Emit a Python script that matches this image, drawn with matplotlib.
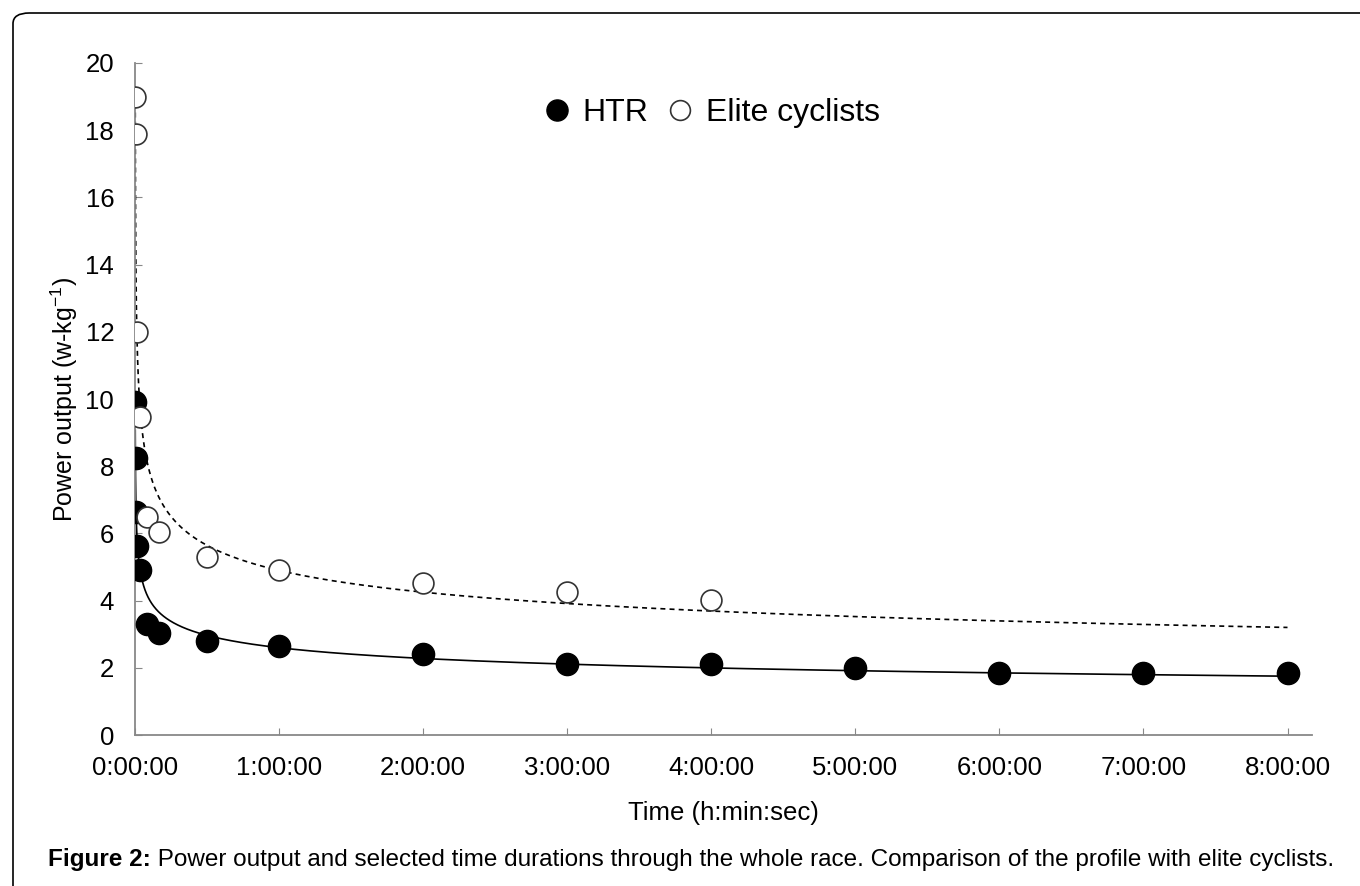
import numpy as np
import matplotlib
matplotlib.use('Agg')
import matplotlib.pyplot as plt
from matplotlib.patches import FancyBboxPatch

plt.rcParams['font.family'] = ['Liberation Sans', 'DejaVu Sans']

# time durations in seconds, power in w/kg
htr_sec = [5, 15, 30, 60, 120, 300, 600, 1800, 3600, 7200, 10800, 14400, 18000, 21600, 25200, 28800]
htr_pow = [9.9, 8.25, 6.65, 5.62, 4.92, 3.3, 3.05, 2.8, 2.65, 2.42, 2.1, 2.1, 2.0, 1.85, 1.85, 1.85]
elite_sec = [5, 15, 60, 120, 300, 600, 1800, 3600, 7200, 10800, 14400]
elite_pow = [19.0, 17.9, 12.0, 9.45, 6.5, 6.03, 5.3, 4.92, 4.52, 4.26, 4.03]
xtick_labels = ['0:00:00', '1:00:00', '2:00:00', '3:00:00', '4:00:00',
                '5:00:00', '6:00:00', '7:00:00', '8:00:00']


def power_fit(sec, pow_):
    """power-law trendline (like the spreadsheet one) from the data"""
    b, loga = np.polyfit(np.log(sec), np.log(pow_), 1)
    t = np.geomspace(min(sec), 8 * 3600, 600)
    return t / 3600.0, np.exp(loga) * t ** b


fig = plt.figure(figsize=(13.6, 8.86), dpi=100)
ax = fig.add_axes([0.0993, 0.1704, 0.8654, 0.7585])

hx, hy = power_fit(htr_sec, htr_pow)
ex, ey = power_fit(elite_sec, elite_pow)
ax.plot(hx, hy, '-', color='black', lw=1.2, zorder=2)
ax.plot(ex, ey, '--', color='black', lw=1.2, dashes=(3, 2.5), zorder=2)

ax.plot(np.array(htr_sec) / 3600.0, htr_pow, 'o', color='black', ms=16,
        zorder=3, label='HTR')
ax.plot(np.array(elite_sec) / 3600.0, elite_pow, 'o', mfc='white', mec='#333333',
        mew=1.2, ms=15, zorder=3, label='Elite cyclists')

ax.set_xlim(0, 8.17)
ax.set_ylim(0, 20)
ax.set_xticks(range(9))
ax.set_xticklabels(xtick_labels)
ax.set_yticks(range(0, 21, 2))
ax.tick_params(direction='in', length=5, color='#888888', labelsize=18.5, pad=15)
for side in ['top', 'right']:
    ax.spines[side].set_visible(False)
for side in ['left', 'bottom']:
    ax.spines[side].set_color('#888888')
    ax.spines[side].set_linewidth(1.3)

ax.set_xlabel('Time (h:min:sec)', fontsize=18.5, labelpad=15.5)
ax.set_ylabel(r'Power output (w-kg$^{\mathregular{-1}}$)', fontsize=18, labelpad=4)

leg = ax.legend(loc='upper center', bbox_to_anchor=(0.489, 0.991), ncol=2, frameon=False,
                fontsize=23, markerscale=0.95, handletextpad=0.3, columnspacing=0.5,
                handlelength=1.0)

# rounded frame round the figure (top and left only visible)
fig.patches.append(FancyBboxPatch((13 / 1360, -0.2), 1.2, 1.2 - 13 / 886,
                                  boxstyle='round,pad=0,rounding_size=0.012',
                                  transform=fig.transFigure, fill=False,
                                  ec='black', lw=1.2))

cap = fig.text(48 / 1360, 1 - 866 / 886, 'Figure 2:', fontsize=17.5, fontweight='bold',
               va='baseline')
ax.annotate(' Power output and selected time durations through the whole race. '
            'Comparison of the profile with elite cyclists.',
            xy=(1, 0), xycoords=cap, va='bottom', ha='left', fontsize=17.5,
            annotation_clip=False)

fig.savefig('out.png', dpi=100)
